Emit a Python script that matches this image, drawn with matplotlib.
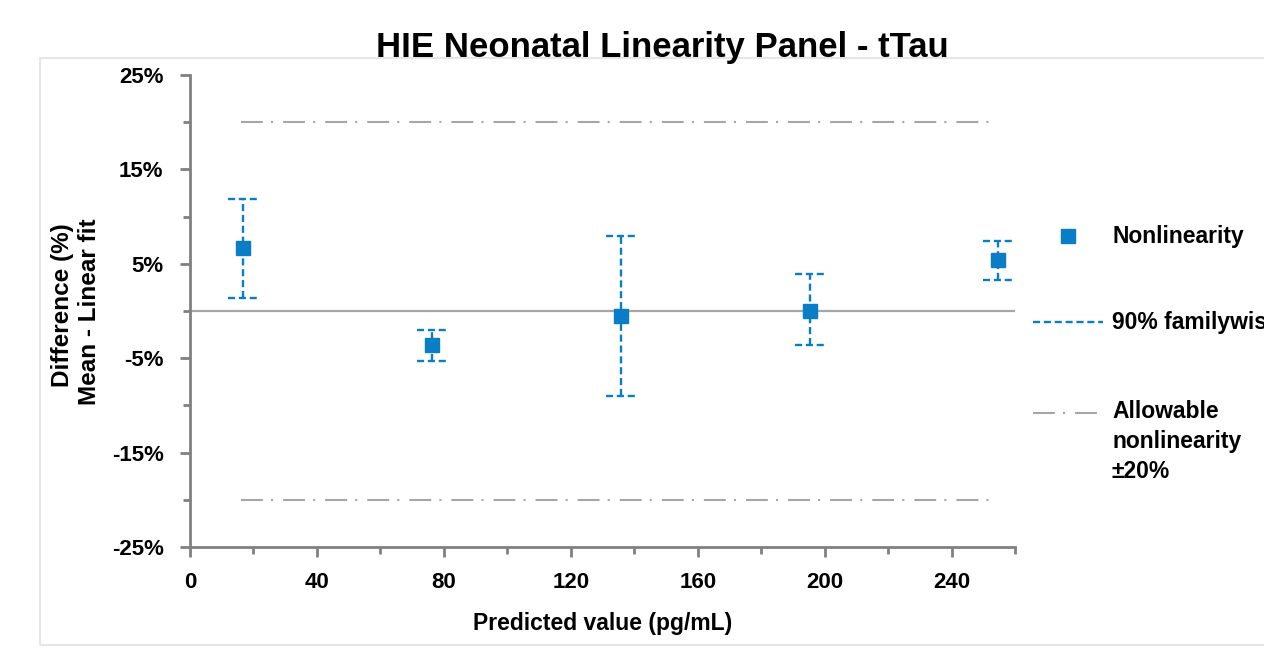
import matplotlib
matplotlib.use('Agg')
import matplotlib.pyplot as plt
from matplotlib.lines import Line2D
from matplotlib.patches import Rectangle
from matplotlib.ticker import FixedLocator, FuncFormatter

# data
predicted = [16.7, 76.2, 135.7, 195.3, 254.5]
nonlin = [6.7, -3.6, -0.5, 0.0, 5.4]
ci_low = [1.4, -5.3, -9.0, -3.6, 3.3]
ci_high = [11.9, -2.0, 7.9, 3.9, 7.4]
allow_limit = 20
allow_x = [16.0, 252.0]

blue = '#0a7dc7'
grey = '#a6a6a6'
axgrey = '#808080'
dash_ci = (0, (3, 1.6))
dash_allow = (0, (10.5, 3.9, 1.0, 4.8))

plt.rcParams['font.family'] = ['Liberation Sans', 'DejaVu Sans']
plt.rcParams['font.weight'] = 'bold'

fig = plt.figure(figsize=(12.64, 6.53), dpi=100)
W, H = 1264.0, 653.0
# outer chart border (cut by right edge like the reference)
fig.patches.append(Rectangle((40 / W, 8 / H), 1.2, 587 / H, transform=fig.transFigure,
                             fill=False, edgecolor='#e6e6e6', linewidth=1.5))

ax = fig.add_axes([190 / W, 1 - 547 / H, 825 / W, 472 / H])

# allowable limits
for lim in (allow_limit, -allow_limit):
    ax.plot(allow_x, [lim, lim], color=grey, lw=1.5, linestyle=dash_allow)

# zero line
ax.axhline(0, color=grey, lw=1.6, zorder=1)

# error bars, dashed caps too
capw = 4.6
for x, lo, hi in zip(predicted, ci_low, ci_high):
    ax.vlines(x, lo, hi, color=blue, lw=1.7, linestyles=dash_ci, zorder=2)
    ax.hlines([lo, hi], x - capw, x + capw, color=blue, lw=1.7, linestyles=dash_ci, zorder=2)

ax.plot(predicted, nonlin, 's', color=blue, markersize=9.5, zorder=3)

ax.set_xlim(0, 260)
ax.set_ylim(-25, 25)
ax.xaxis.set_major_locator(FixedLocator([0, 40, 80, 120, 160, 200, 240]))
ax.xaxis.set_minor_locator(FixedLocator([20, 60, 100, 140, 180, 220, 260]))
ax.yaxis.set_major_locator(FixedLocator([-25, -15, -5, 5, 15, 25]))
ax.yaxis.set_minor_locator(FixedLocator([-20, -10, 0, 10, 20]))
ax.yaxis.set_major_formatter(FuncFormatter(lambda v, p: '%d%%' % v))

for s in ['top', 'right']:
    ax.spines[s].set_visible(False)
for s in ['left', 'bottom']:
    ax.spines[s].set_color(axgrey)
    ax.spines[s].set_linewidth(2)

ax.tick_params(which='major', length=7, width=2, color=axgrey, labelsize=16)
ax.tick_params(which='minor', length=5, width=2, color=axgrey)
ax.tick_params(axis='y', which='major', pad=12)
ax.tick_params(axis='x', which='major', pad=11)

ax.set_xlabel('Predicted value (pg/mL)', fontsize=16.5, fontweight='bold', labelpad=14)
fig.text(62 / W, 1 - 305 / H, 'Difference (%)', rotation=90,
         ha='center', va='center', fontsize=17.5, fontweight='bold')
fig.text(90 / W, 1 - 312 / H, 'Mean - Linear fit', rotation=90,
         ha='center', va='center', fontsize=17.5, fontweight='bold')

fig.text(662 / W, 1 - 48 / H, 'HIE Neonatal Linearity Panel - tTau',
         ha='center', va='center', fontsize=25, fontweight='bold')

# legend drawn by hand so the dash-dot sits on the first label line
fig.add_artist(Line2D([1068 / W], [1 - 236 / H], marker='s', color=blue,
                      linestyle='none', markersize=9.5, transform=fig.transFigure))
fig.text(1112 / W, 1 - 236 / H, 'Nonlinearity', ha='left', va='center', fontsize=16.5)
fig.add_artist(Line2D([1033 / W, 1103 / W], [1 - 322 / H] * 2, color=blue, lw=1.7,
                      linestyle=dash_ci, transform=fig.transFigure))
fig.text(1112 / W, 1 - 322 / H, '90% familywise CI', ha='left', va='center', fontsize=16.5)
fig.add_artist(Line2D([1033 / W, 1103 / W], [1 - 413 / H] * 2, color=grey, lw=1.5,
                      linestyle=dash_allow, transform=fig.transFigure))
fig.text(1112 / W, 1 - 400 / H, 'Allowable\nnonlinearity\n\u00b120%', ha='left', va='top',
         fontsize=16.5, linespacing=1.4)

fig.savefig('out.png', dpi=100)
